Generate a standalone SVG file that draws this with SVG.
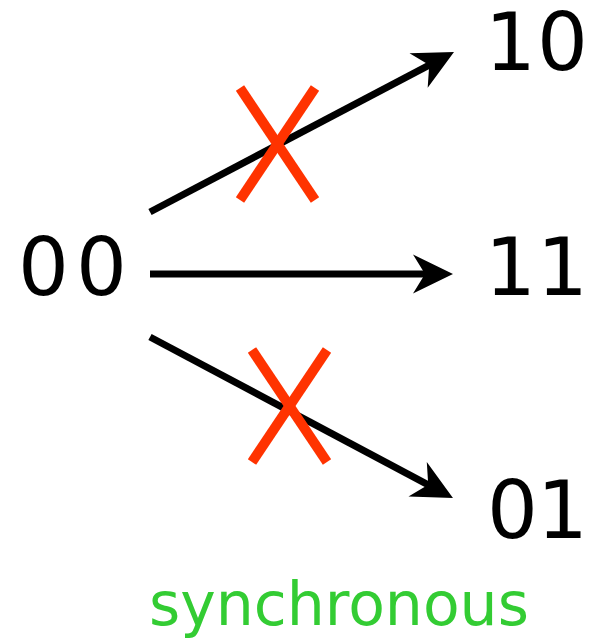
<svg xmlns="http://www.w3.org/2000/svg" width="591" height="640" viewBox="0 0 591 640">
<defs>
<marker id="ah" markerUnits="userSpaceOnUse" orient="auto" refX="0" refY="0" markerWidth="60" markerHeight="60" overflow="visible">
<path d="M20,0 L-20,-19.5 L-8,0 L-20,19.5 Z" fill="#000"/>
</marker>
<style>
.lbl{font-family:"DejaVu Sans","Liberation Sans",sans-serif;font-size:80px;fill:#000}
.edge{stroke:#000;stroke-width:7;fill:none;marker-end:url(#ah)}
.x{stroke:#ff3300;stroke-width:10;fill:none}
.cap{font-family:"DejaVu Sans","Liberation Sans",sans-serif;font-size:60px;fill:#33cc33}
</style>
</defs>
<g id="connectors">
<line class="edge" x1="150" y1="212" x2="436.3" y2="61.3"/>
<line class="edge" x1="150" y1="274" x2="433" y2="274"/>
<line class="edge" x1="150" y1="337" x2="435.3" y2="488.6"/>
</g>
<g id="cross-top">
<line class="x" x1="240" y1="88" x2="315" y2="200"/>
<line class="x" x1="315" y1="88" x2="240" y2="200"/>
</g>
<g id="cross-bottom">
<line class="x" x1="252" y1="350" x2="327" y2="462"/>
<line class="x" x1="327" y1="350" x2="252" y2="462"/>
</g>
<g id="node-00"><text class="lbl" x="18 76" y="295">00</text></g>
<g id="node-10"><text class="lbl" x="485 537" y="70">10</text></g>
<g id="node-11"><text class="lbl" x="485 537" y="295">11</text></g>
<g id="node-01"><text class="lbl" x="487 537" y="538">01</text></g>
<g id="caption"><text class="cap" x="149" y="625">synchronous</text></g>
</svg>
